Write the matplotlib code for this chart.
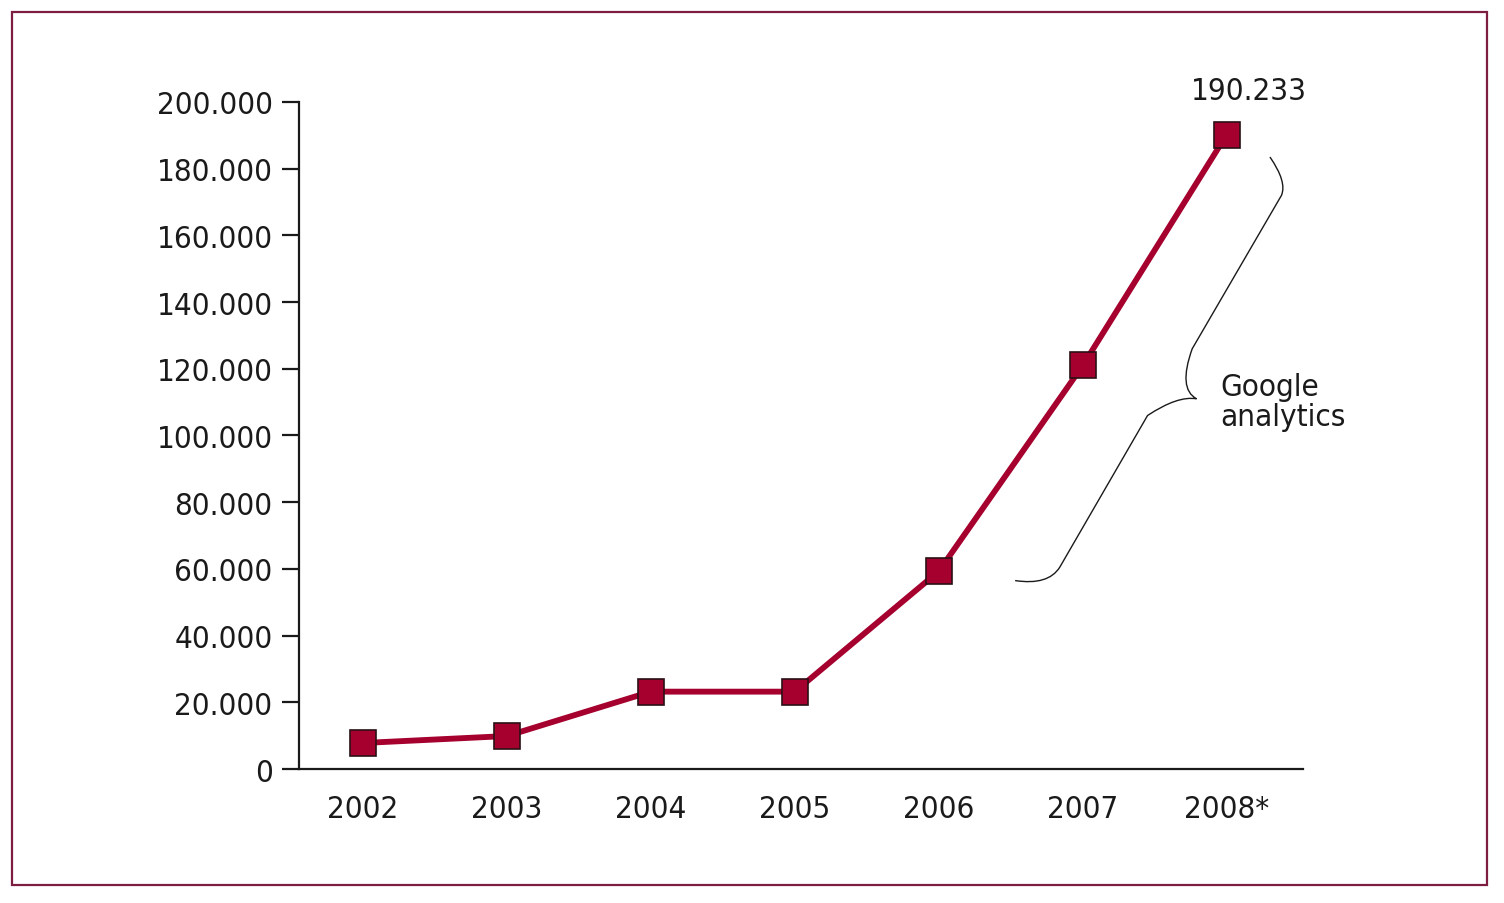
import matplotlib
matplotlib.use('Agg')
import matplotlib.pyplot as plt
from matplotlib.patches import Rectangle, PathPatch
from matplotlib.path import Path
from matplotlib.ticker import FuncFormatter

# condensed sans, close to the narrow face of the original
plt.rcParams['font.family'] = ['DejaVu Sans']
plt.rcParams['font.stretch'] = 'condensed'

years = ['2002', '2003', '2004', '2005', '2006', '2007', '2008*']
visits = [7800, 9900, 23200, 23200, 59300, 121000, 190233]
yticks = [0, 20000, 40000, 60000, 80000, 100000, 120000, 140000, 160000, 180000, 200000]

line_color = '#a5002e'
frame_color = '#7d1d40'

fig = plt.figure(figsize=(15.04, 9.04), dpi=100)
fig.patches.append(Rectangle((0.008, 0.02), 0.9807, 0.9657, transform=fig.transFigure,
                             fill=False, edgecolor=frame_color, linewidth=1.6))

ax = fig.add_axes([0.1988, 0.1482, 0.6676, 0.7379])
x = list(range(len(years)))
ax.plot(x, visits, color=line_color, linewidth=4.2, marker='s', markersize=18.5,
        markerfacecolor=line_color, markeredgecolor='#2a1015', markeredgewidth=1.2,
        solid_joinstyle='miter', clip_on=False, zorder=3)

ax.set_xlim(-0.444, 6.53)
ax.set_ylim(0, 200000)
ax.set_yticks(yticks)
ax.yaxis.set_major_formatter(FuncFormatter(lambda v, p: f'{int(v):,}'.replace(',', '.')))
ax.set_xticks(x)
ax.set_xticklabels(years)

for s in ['top', 'right']:
    ax.spines[s].set_visible(False)
for s in ['left', 'bottom']:
    ax.spines[s].set_linewidth(1.6)
    ax.spines[s].set_color('#1a1a1a')

ax.tick_params(axis='y', direction='out', length=12, width=1.6, pad=7,
               labelsize=22.5, colors='#1a1a1a')
ax.tick_params(axis='x', length=0, pad=18, labelsize=22.5, colors='#1a1a1a')

# value label on the last point
ax.annotate(f'{visits[-1]:,}'.replace(',', '.'), (x[-1], visits[-1]),
            xytext=(16, 21), textcoords='offset points', ha='center', va='bottom',
            fontsize=22.5, color='#1a1a1a', annotation_clip=False)

# curly brace marking the Google analytics period
verts = [(6.30, 183500), (6.42, 176000), (6.38, 172000),
         (6.38, 172000), (5.76, 126000),
         (5.66, 114000), (5.79, 111000),
         (5.66, 112000), (5.45, 106000),
         (5.45, 106000), (4.84, 60500),
         (4.76, 55000), (4.53, 56500)]
codes = [Path.MOVETO, Path.CURVE3, Path.CURVE3,
         Path.LINETO, Path.LINETO,
         Path.CURVE3, Path.CURVE3,
         Path.CURVE3, Path.CURVE3,
         Path.LINETO, Path.LINETO,
         Path.CURVE3, Path.CURVE3]
brace = PathPatch(Path(verts, codes), fill=False, edgecolor='#1a1a1a', linewidth=1.0,
                  clip_on=False)
ax.add_patch(brace)
ax.text(5.955, 119000, 'Google\nanalytics', ha='left', va='top', fontsize=22.5,
        color='#1a1a1a', linespacing=1.05)

fig.savefig('out.png', dpi=100)
